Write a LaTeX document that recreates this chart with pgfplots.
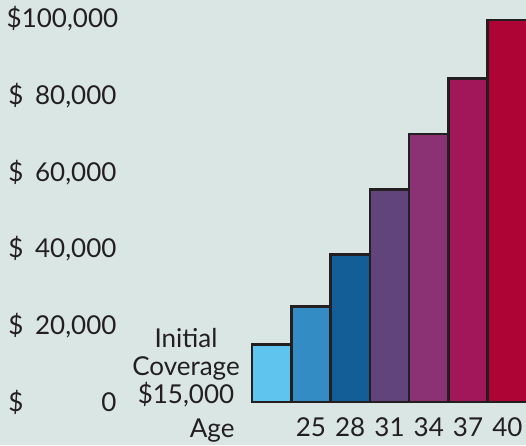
\documentclass[border=0pt]{standalone}
\usepackage{pgfplots}
\pgfplotsset{compat=1.18}
\usepackage{fontspec}
\setmainfont{Lato}

\definecolor{bgc}{RGB}{218,230,228}
\definecolor{ink}{RGB}{35,31,32}
\definecolor{c1}{RGB}{95,196,238}
\definecolor{c2}{RGB}{51,140,195}
\definecolor{c3}{RGB}{20,94,152}
\definecolor{c4}{RGB}{98,68,124}
\definecolor{c5}{RGB}{138,50,115}
\definecolor{c6}{RGB}{162,23,90}
\definecolor{c7}{RGB}{173,4,53}

\newcommand{\dollar}[1]{\makebox[108pt]{\$\hfill#1}}

\begin{document}
\begin{tikzpicture}[x=1pt,y=1pt,font=\fontsize{26}{30}\selectfont,text=ink]
\fill[bgc] (0,0) rectangle (526,445);
\useasboundingbox (0,0) rectangle (526,445);
\begin{axis}[
    at={(252pt,43pt)}, anchor=south west,
    scale only axis,
    width=275pt, height=383pt,
    xmin=-0.5, xmax=6.5,
    ymin=0, ymax=100000,
    clip=false,
    axis line style={draw=none},
    tick style={draw=none},
    ybar, bar width=39.3pt, bar shift=0pt,
    every axis plot/.append style={draw=ink, line width=2.6pt},
    xtick={1,2,3,4,5,6},
    xticklabels={25,28,31,34,37,40},
    ytick={0,20000,40000,60000,80000,100000},
    yticklabels={\dollar{0},\dollar{20,000},\dollar{40,000},\dollar{60,000},\dollar{80,000},\dollar{100,000}},
    scaled y ticks=false,
    tick label style={font=\fontsize{26}{30}\selectfont, text=ink},
    xticklabel style={anchor=base, yshift=-30pt},
    yticklabel style={anchor=east, xshift=-132pt},
]
\addplot[fill=c1] coordinates {(0,15000)};
\addplot[fill=c2] coordinates {(1,25000)};
\addplot[fill=c3] coordinates {(2,38500)};
\addplot[fill=c4] coordinates {(3,55500)};
\addplot[fill=c5] coordinates {(4,70000)};
\addplot[fill=c6] coordinates {(5,84500)};
\addplot[fill=c7] coordinates {(6,99700)};
\end{axis}
\node[anchor=base] at (186,98) {Initial};
\node[anchor=base] at (186,70) {Coverage};
\node[anchor=base] at (186,42) {\$15,000};
\node[anchor=base east] at (238,8) {Age};
\end{tikzpicture}
\end{document}
